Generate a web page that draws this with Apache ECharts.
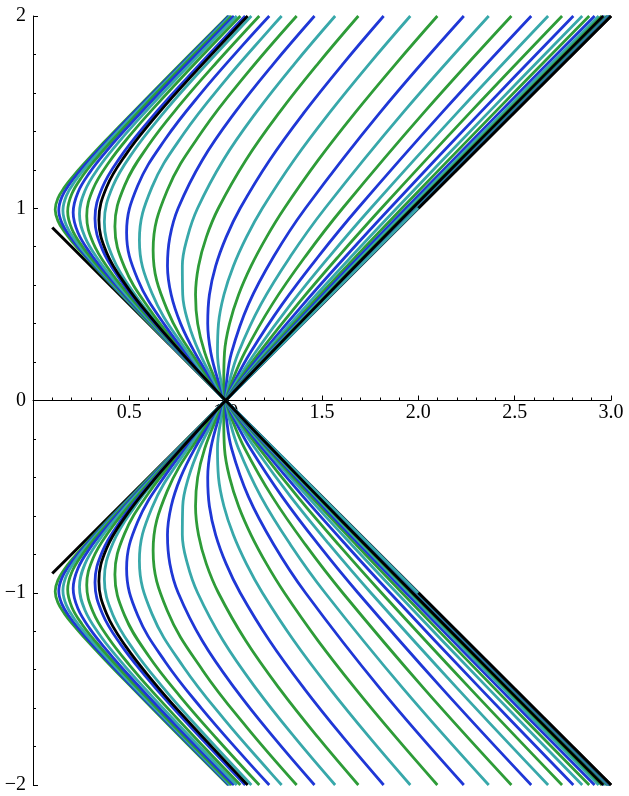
<!DOCTYPE html>
<html><head><meta charset="utf-8">
<script src="https://cdn.jsdelivr.net/npm/echarts@6/dist/echarts.min.js"></script>
<style>html,body{margin:0;padding:0;background:#fff}#c{width:629px;height:796px}</style>
</head><body><div id="c"></div>
<script>
// y levels shared by the outward-going curves (upper half; lower half is the mirror image)
const gridRight = [0, 0.1, 0.25, 0.5, 0.75, 1, 1.5, 2];
const rightCurves = [
  [1, 1.0050, 1.0308, 1.1180, 1.2500, 1.4142, 1.8028, 2.2361],
  [1, 1.0197, 1.0663, 1.1827, 1.3364, 1.5158, 1.9227, 2.3655],
  [1, 1.0336, 1.0992, 1.2415, 1.4140, 1.6071, 2.0307, 2.4830],
  [1, 1.0461, 1.1285, 1.2930, 1.4817, 1.6864, 2.1250, 2.5860],
  [1, 1.0571, 1.1537, 1.3368, 1.5389, 1.7533, 2.2048, 2.6736],
  [1, 1.0663, 1.1748, 1.3730, 1.5859, 1.8084, 2.2706, 2.7460],
  [1, 1.0739, 1.1919, 1.4023, 1.6239, 1.8527, 2.3236, 2.8045],
  [1, 1.0800, 1.2056, 1.4254, 1.6539, 1.8878, 2.3655, 2.8508],
  [1, 1.0848, 1.2163, 1.4435, 1.6772, 1.9150, 2.3981, 2.8870],
  [1, 1.0885, 1.2246, 1.4574, 1.6952, 1.9360, 2.4233, 2.9148],
  [1, 1.0913, 1.2309, 1.4681, 1.7089, 1.9520, 2.4424, 2.9361],
  [1, 1.0935, 1.2357, 1.4761, 1.7192, 1.9641, 2.4570, 2.9522],
  [1, 1.0952, 1.2393, 1.4822, 1.7271, 1.9732, 2.4679, 2.9643],
  [1, 1.0964, 1.2420, 1.4867, 1.7329, 1.9801, 2.4761, 2.9734],
  [1, 1.0973, 1.2441, 1.4901, 1.7373, 1.9852, 2.4822, 2.9802],
  [1, 1.0980, 1.2456, 1.4927, 1.7406, 1.9890, 2.4868, 2.9853],
  [1, 1.0985, 1.2467, 1.4946, 1.7430, 1.9918, 2.4902, 2.9891],
  [1, 1.0989, 1.2476, 1.4960, 1.7448, 1.9939, 2.4927, 2.9919],
  [1, 1.0992, 1.2482, 1.4970, 1.7462, 1.9955, 2.4946, 2.9940],
  [1, 1.0994, 1.2487, 1.4978, 1.7471, 1.9967, 2.4960, 2.9956]
];
// y levels shared by the broad inward-turning curves
const gridLeft = [0, 0.1, 0.25, 0.4, 0.55, 0.7, 0.85, 1.0, 1.25, 1.5, 1.75, 2.0];
const leftCurves = [
  [1, 0.9901, 0.9940, 1.0202, 1.0671, 1.1321, 1.2122, 1.3047, 1.4800, 1.6743, 1.8819, 2.0987],
  [1, 0.9756, 0.9575, 0.9628, 0.9910, 1.0403, 1.1078, 1.1905, 1.3543, 1.5415, 1.7444, 1.9583],
  [1, 0.9621, 0.9228, 0.9069, 0.9156, 0.9483, 1.0026, 1.0753, 1.2279, 1.4087, 1.6081, 1.8200],
  [1, 0.9501, 0.8911, 0.8546, 0.8436, 0.8592, 0.8997, 0.9622, 1.1045, 1.2802, 1.4774, 1.6887],
  [1, 0.9397, 0.8631, 0.8074, 0.7771, 0.7751, 0.8017, 0.8542, 0.9872, 1.1595, 1.3563, 1.5683],
  [1, 0.9310, 0.8393, 0.7661, 0.7173, 0.6980, 0.7105, 0.7533, 0.8785, 1.0493, 1.2472, 1.4611]
];
// tight inward-turning curves, as [x, y] points read around each turning point
const outerCurves = [
  [[1,0],[0.8818,0.1583],[0.6971,0.4701],[0.6235,0.7818],[0.6971,1.0936],[0.8818,1.4053],[1.1099,1.7],[1.3685,2]],
  [[1,0],[0.7811,0.2814],[0.6175,0.5575],[0.5523,0.8337],[0.6175,1.1098],[0.7811,1.3859],[0.9939,1.66],[1.2350,1.9382],[1.2905,2]],
  [[1,0],[0.8719,0.15],[0.6871,0.3882],[0.5432,0.6311],[0.4858,0.8741],[0.5432,1.1170],[0.6871,1.3599],[0.8735,1.6],[1.0864,1.8457],[1.2263,2]],
  [[1,0],[0.7664,0.2675],[0.6012,0.4801],[0.4753,0.6926],[0.4251,0.9052],[0.4753,1.1177],[0.6012,1.3303],[0.7640,1.54],[0.9506,1.7554],[1.1745,2]],
  [[1,0],[0.8283,0.1880],[0.6678,0.3732],[0.5239,0.5584],[0.4142,0.7436],[0.3704,0.9288],[0.4142,1.1141],[0.5239,1.2993],[0.6678,1.4845],[0.8283,1.6697],[1.1334,2]],
  [[1,0],[0.8665,0.1423],[0.7196,0.3032],[0.5802,0.4641],[0.4551,0.6250],[0.3598,0.7859],[0.3218,0.9468],[0.3598,1.1077],[0.4551,1.2686],[0.5802,1.4295],[0.7196,1.5904],[1.0177,1.9122],[1.1013,2]],
  [[1,0],[0.8821,0.1235],[0.6237,0.4025],[0.5029,0.5419],[0.3945,0.6814],[0.3118,0.8209],[0.2789,0.9603],[0.3118,1.0998],[0.3945,1.2393],[0.5029,1.3787],[0.6237,1.5182],[0.8821,1.7971],[1.0764,2]],
  [[1,0],[0.7631,0.2466],[0.5396,0.4879],[0.4350,0.6085],[0.3413,0.7292],[0.2698,0.8498],[0.2413,0.9705],[0.2698,1.0911],[0.3413,1.2118],[0.4350,1.3324],[0.5396,1.4531],[0.7631,1.6944],[1.0575,2]],
  [[1,0],[0.8596,0.1441],[0.6593,0.3526],[0.4662,0.5611],[0.3759,0.6653],[0.2948,0.7696],[0.2331,0.8738],[0.2085,0.9780],[0.2331,1.0823],[0.2948,1.1865],[0.3759,1.2908],[0.4662,1.3950],[0.6593,1.6035],[0.8596,1.8120],[1.0430,2]],
  [[1,0],[0.7420,0.2638],[0.5691,0.4438],[0.4024,0.6238],[0.3244,0.7137],[0.2545,0.8037],[0.2012,0.8937],[0.1800,0.9837],[0.2012,1.0737],[0.2545,1.1636],[0.3244,1.2536],[0.4024,1.3436],[0.5691,1.5236],[0.7420,1.7035],[1.0321,2]],
  [[1,0],[0.6402,0.3668],[0.4910,0.5221],[0.3472,0.6774],[0.2799,0.7550],[0.2196,0.8326],[0.1736,0.9103],[0.1553,0.9879],[0.1736,1.0655],[0.2196,1.1431],[0.2799,1.2208],[0.3472,1.2984],[0.4910,1.4537],[0.6402,1.6089],[1.0240,2]],
  [[1,0],[0.5517,0.4558],[0.4232,0.5896],[0.2992,0.7234],[0.2412,0.7903],[0.1892,0.8572],[0.1496,0.9241],[0.1338,0.9910],[0.1496,1.0579],[0.1892,1.1248],[0.2412,1.1917],[0.2992,1.2586],[0.4232,1.3924],[0.5517,1.5263],[1.0178,2]],
  [[1,0],[0.7013,0.3015],[0.4754,0.5321],[0.3646,0.6474],[0.2578,0.7627],[0.2079,0.8204],[0.1631,0.8780],[0.1289,0.9357],[0.1153,0.9933],[0.1289,1.0510],[0.1631,1.1086],[0.2079,1.1663],[0.2578,1.2239],[0.3646,1.3392],[0.4754,1.4545],[0.7013,1.6851],[1.0133,2]]
];
const blackCurveLeft = [[1,0],[0.9209,0.0846],[0.7648,0.2557],[0.6166,0.4267],[0.4837,0.5977],[0.3824,0.7687],[0.3420,0.9397],[0.3824,1.1107],[0.4837,1.2817],[0.6166,1.4527],[0.7648,1.6237],[1.0816,1.9658],[1.1141,2]];
const blackCurveRight = [1, 1.0945, 1.2379, 1.4798, 1.7240, 1.9696, 2.4636, 2.9595];
const blackLineLeft = [[1, 0], [0.1, 0.9]];
const blackLineRight = [[1, 0], [3, 2]];
const blackLineRightUpper = [[2, 1], [3, 2]];
const palette = ['#1f37d6', '#38a8aa', '#2e9c38']; // blue, teal, green
const rightColorIdx = [0,1,2,0,1,2,0,1,2,0,1,2,0,1,2,0,1,2,0,1];
const leftColorIdx = [2,1,0,2,1,0];
const outerColorIdx = [2,1,0,2,1,0,2,1,0,2,1,0,2];

const series = [];
const LW = 2.8;
function add(points, color, w, smooth) {
  [1, -1].forEach(s => series.push({type: 'line', data: points.map(p => [p[0], s * p[1]]),
    smooth: smooth, showSymbol: false, symbol: 'none', silent: true, clip: true,
    lineStyle: {color: color, width: w, cap: 'butt', join: 'round'}}));
}
const zip = (grid, xs) => xs.map((x, i) => [x, grid[i]]);
add(blackLineLeft, '#000', 3, false);
add(blackLineRight, '#000', 3, false);
for (let i = outerCurves.length - 1; i >= 0; i--) add(outerCurves[i], palette[outerColorIdx[i]], LW, 0.4);
for (let i = leftCurves.length - 1; i >= 0; i--) add(zip(gridLeft, leftCurves[i]), palette[leftColorIdx[i]], LW, 0.4);
rightCurves.forEach((xs, i) => add(zip(gridRight, xs), palette[rightColorIdx[i]], LW, 0.4));
add(blackCurveLeft, '#000', LW, 0.4);
add(zip(gridRight, blackCurveRight), '#000', LW, 0.4);
add(blackLineRightUpper, '#000', 3, false);

const chart = echarts.init(document.getElementById('c'), null, {renderer: 'canvas'});
const font = 'Liberation Serif';
const gridH = 796 - 16 - 11;
chart.setOption({
  animation: false,
  grid: {left: 33, right: 18, top: 16, bottom: 11, containLabel: false, outerBoundsMode: 'none'},
  xAxis: {type: 'value', min: 0, max: 3, interval: 0.5, position: 'bottom', offset: -gridH / 2,
    axisLine: {onZero: false, lineStyle: {color: '#000', width: 1}},
    axisTick: {inside: true, length: 5, lineStyle: {color: '#000'}},
    minorTick: {show: true, splitNumber: 5, length: 3, lineStyle: {color: '#000'}},
    splitLine: {show: false},
    axisLabel: {fontFamily: font, fontSize: 20, color: '#000', margin: 2,
      formatter: v => v === 0 ? '' : v.toFixed(1)}},
  yAxis: {type: 'value', min: -2, max: 2, interval: 1,
    axisLine: {onZero: false, lineStyle: {color: '#000', width: 1}},
    axisTick: {inside: true, length: 5, lineStyle: {color: '#000'}},
    minorTick: {show: true, splitNumber: 5, length: 3, lineStyle: {color: '#000'}},
    splitLine: {show: false},
    axisLabel: {fontFamily: font, fontSize: 20, color: '#000', margin: 7,
      formatter: v => String(v).replace('-', '\u2212')}},
  series: series
});
</script></body></html>
